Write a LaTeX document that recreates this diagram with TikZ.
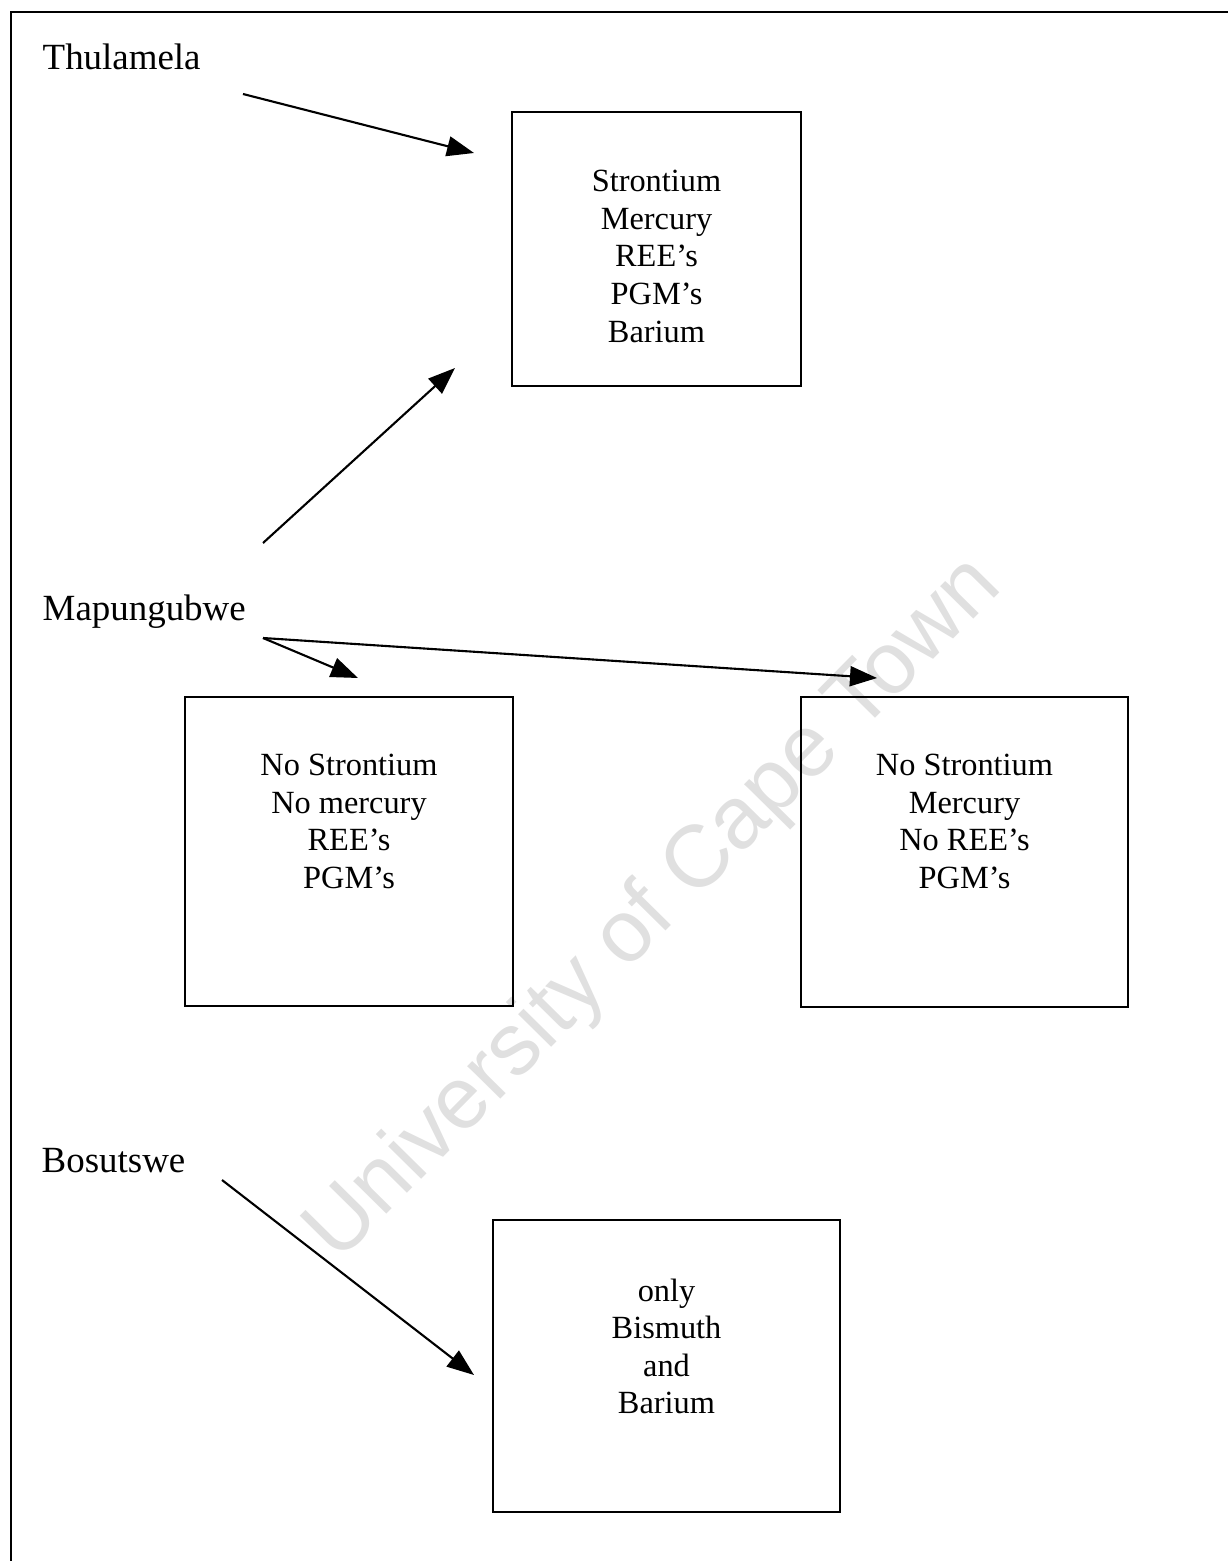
\documentclass[tikz,border=0pt]{standalone}
\usepackage{fontspec}
\setmainfont{Liberation Serif}
\newfontfamily\wmfont{Liberation Sans}
\usetikzlibrary{positioning,arrows.meta}

\begin{document}
\begin{tikzpicture}[x=0.01cm, y=-0.01cm,
        font=\fontsize{10.5pt}{10.7pt}\selectfont,
        site/.style={anchor=base west, inner sep=0pt},
        elembox/.style={draw=black, line width=0.6pt, inner sep=0pt},
        elemlist/.style={align=center, inner sep=0pt, anchor=north,
            font=\fontsize{9.2pt}{10.7pt}\selectfont},
        link/.style={line width=0.6pt, -{Triangle[length=0.27cm, width=0.2cm]}}]
    \useasboundingbox (0,0) rectangle (1228,1561);
    \clip (0,0) rectangle (1228,1561);
    % page frame, right and bottom edges fall outside
    \draw[line width=0.6pt] (11,12) rectangle (1260,1600);
    % watermark
    \node[rotate=45.4, text=black!12, inner sep=0pt,
        font=\wmfont\fontsize{25pt}{25pt}\selectfont] (wmark) at (655,910) {University of Cape Town};

    % sites
    \node[site] (thulamela) at (42,70) {Thulamela};
    \node[site] (mapungubwe) at (42,620) {Mapungubwe};
    \node[site] (bosutswe) at (41,1172) {Bosutswe};

    % element boxes
    \node[elembox, minimum width=2.89cm, minimum height=2.74cm] (thuBox) at (656.5,249) {};
    \node[elemlist, below=0.585cm of thuBox.north] (thuList) {Strontium\\Mercury\\REE’s\\PGM’s\\Barium};

    \node[elembox, minimum width=3.28cm, minimum height=3.09cm] (mapBoxA) at (349,851.5) {};
    \node[elemlist, below=0.575cm of mapBoxA.north] (mapListA) {No Strontium\\No mercury\\REE’s\\PGM’s};

    \node[elembox, minimum width=3.27cm, minimum height=3.10cm] (mapBoxB) at (964.5,852) {};
    \node[elemlist, below=0.575cm of mapBoxB.north] (mapListB) {No Strontium\\Mercury\\No REE’s\\PGM’s};

    \node[elembox, minimum width=3.47cm, minimum height=2.92cm] (bosBox) at (666.5,1366) {};
    \node[elemlist, below=0.59cm of bosBox.north] (bosList) {only\\Bismuth\\and\\Barium};

    % arrow ends
    \coordinate (thuTail) at (243,94);
    \coordinate (thuTip) at (474,153);
    \coordinate (mapTailUp) at (263,543);
    \coordinate (mapTipUp) at (455,368);
    \coordinate (mapTail) at (263,638);
    \coordinate (mapTipA) at (358,678);
    \coordinate (mapTipB) at (877,678);
    \coordinate (bosTail) at (222,1180);
    \coordinate (bosTip) at (474,1375);

    \draw[link] (thuTail) -- (thuTip);
    \draw[link] (mapTailUp) -- (mapTipUp);
    \draw[link] (mapTail) -- (mapTipA);
    \draw[link] (mapTail) -- (mapTipB);
    \draw[link] (bosTail) -- (bosTip);
\end{tikzpicture}
\end{document}
